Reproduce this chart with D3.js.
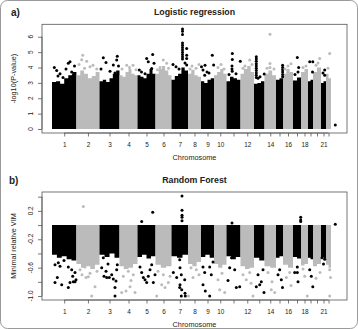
<!DOCTYPE html>
<html>
<head>
<meta charset="utf-8">
<script src="https://cdn.jsdelivr.net/npm/d3@7"></script>
<style>
  body { margin: 0; background: #fff; }
  text { font-family: "Liberation Sans", Arial, sans-serif; fill: #222; }
</style>
</head>
<body>
<div id="chart"></div>
<script>
// chromosomes and the stretch of genome axis each one covers (Mb)
var chromosomes = ["1","2","3","4","5","6","7","8","9","10","11","12","13","14","15","16","17","18","19","20","21","22"];
var chromSpan = [244, 231, 200, 180, 180, 160, 165, 130, 130, 125, 140, 135, 105, 115, 70, 100, 80, 70, 50, 80, 50, 50];
var tickLabels = ["1","2","3","4","5","6","7","8","9","10","","12","","14","","16","","18","","","21",""];

// a) logistic regression: top of the dense SNP cloud, left to right in each chromosome (-log10 p)
var lrCloudTop = [
  [3.05, 3.1, 2.95, 3.3, 3.5, 3.7],
  [3.5, 3.8, 3.6, 3.3, 3.45, 3.7],
  [3.1, 3.2, 3.05, 3.3, 3.6, 3.8],
  [3.5, 3.4, 3.7, 3.9, 3.6, 3.5],
  [3.5, 3.4, 3.3, 3.6, 3.9, 3.6],
  [3.6, 3.9, 4.1, 3.8, 3.5],
  [3.2, 3.45, 3.6, 4.0, 3.8],
  [3.6, 3.85, 3.5, 3.4],
  [3.1, 3.0, 3.2, 3.3],
  [3.5, 3.7, 3.9, 3.6],
  [3.1, 3.4, 3.3, 3.2],
  [3.6, 3.9, 4.1, 3.7],
  [2.95, 3.0, 3.1],
  [3.6, 3.8, 3.5],
  [3.2, 3.3],
  [3.6, 3.9, 3.7],
  [3.15, 3.35],
  [3.7, 3.9],
  [3.1, 3.2],
  [3.7, 4.0],
  [3.0, 3.1],
  [3.6, 3.3]
];
// a) SNPs standing out of the cloud: [chromosome, Mb into chromosome, -log10 p]
var lrHits = [
  [1,23,4.0],[1,47,3.8],[1,60,3.45],[1,80,3.6],[1,110,3.35],[1,140,3.9],[1,163,4.27],[1,180,4.37],[1,197,3.7],[1,213,3.5],[1,225,4.1],
  [2,26,4.2],[2,53,4.5],[2,63,4.8],[2,81,3.95],[2,103,4.4],[2,136,4.05],[2,166,4.15],[2,203,3.9],
  [3,15,3.9],[3,38,4.63],[3,65,4.33],[3,105,3.75],[3,138,4.16],[3,155,3.65],[3,172,4.48],[3,178,4.74],[3,190,4.1],
  [4,25,3.9],[4,72,4.15],[4,100,4.0],[4,135,4.15],[4,165,3.85],
  [5,18,3.83],[5,40,3.7],[5,75,3.6],[5,92,4.59],[5,108,4.37],[5,142,3.94],[5,152,4.85],[5,165,4.28],
  [6,20,3.85],[6,45,4.0],[6,78,4.48],[6,112,4.28],[6,130,3.95],
  [7,15,4.2],[7,45,4.05],[7,75,3.9],[7,135,4.3],
  [7,110,6.5],[7,110,6.35],[7,110,6.15],[7,110,5.6],[7,110,5.45],[7,110,5.3],[7,110,5.15],[7,110,5.0],[7,110,4.85],[7,110,4.7],[7,110,4.55],
  [7,152,5.24],[7,152,4.8],[7,152,4.59],[7,152,4.16],
  [8,20,3.9],[8,40,4.1],[8,80,3.95],[8,110,4.2],
  [9,5,4.05],[9,20,3.83],[9,37,3.5],[9,40,4.15],[9,60,3.7],[9,80,3.65],[9,113,4.8],[9,126,4.16],
  [10,40,4.0],[10,70,4.2],[10,100,3.9],
  [11,25,3.55],[11,57,3.75],[11,55,3.9],[11,55,4.1],[11,58,4.52],[11,58,4.91],[11,95,3.6],[11,138,4.41],
  [12,25,3.95],[12,45,4.1],[12,92,4.48],[12,115,4.2],
  [13,23,4.7],[13,23,4.55],[13,23,4.4],[13,23,4.25],[13,23,4.1],[13,23,3.95],[13,23,3.8],[13,23,3.65],[13,23,3.5],[13,23,3.35],
  [13,40,3.3],[13,60,3.4],[13,102,3.57],
  [14,25,3.95],[14,55,6.17],[14,55,4.26],[14,55,4.0],[14,95,3.9],
  [15,66,4.15],[15,66,4.0],[15,66,3.85],[15,66,3.7],[15,66,3.55],[15,66,3.4],
  [16,20,3.9],[16,50,4.1],[16,80,4.25],
  [17,20,3.55],[17,43,4.65],[17,50,3.7],[17,57,4.0],
  [18,20,4.0],[18,50,4.1],
  [19,17,4.37],[19,45,3.7],[19,48,4.37],
  [20,30,4.15],[20,50,4.3],[20,67,4.59],
  [21,20,3.65],[21,37,3.83],[21,37,3.5],
  [22,20,3.95],[22,37,4.91],
  [23,43,0.26]
];

// b) random forest: bottom of the dense SNP cloud (it runs from 0 down), left to right
var rfCloudBottom = [
  [-0.42, -0.46, -0.44, -0.48, -0.5],
  [-0.55, -0.6, -0.58, -0.62, -0.56],
  [-0.42, -0.45, -0.4, -0.46],
  [-0.58, -0.62, -0.6, -0.55],
  [-0.45, -0.42, -0.47, -0.44],
  [-0.56, -0.6, -0.58],
  [-0.44, -0.46, -0.42],
  [-0.55, -0.58, -0.52],
  [-0.45, -0.42, -0.46],
  [-0.55, -0.6, -0.56],
  [-0.44, -0.48, -0.45],
  [-0.58, -0.62, -0.6],
  [-0.46, -0.5],
  [-0.58, -0.6],
  [-0.46, -0.44],
  [-0.56, -0.6],
  [-0.45, -0.47],
  [-0.57, -0.55],
  [-0.46, -0.48],
  [-0.58, -0.55],
  [-0.45, -0.47],
  [-0.56, -0.6]
];
// b) SNPs outside the cloud: [chromosome, Mb into chromosome, minimal relative VIM]
var rfHits = [
  [1,30,-0.81],[1,53,-0.74],[1,97,-0.84],[1,163,-0.88],[1,180,-0.81],[1,230,-0.8],[1,213,-0.8],[1,240,-0.77],[1,207,-0.72],[1,197,-0.63],[1,163,-0.59],[1,63,-0.53],[1,30,-0.56],[1,80,-0.58],[1,230,-0.67],[1,120,-0.5],
  [2,69,0.26],[2,96,-0.74],[2,119,-0.73],[2,153,-1.0],[2,186,-0.87],[2,36,-0.63],[2,86,-0.59],[2,136,-0.68],[2,206,-0.65],[2,56,-0.7],
  [3,38,-0.46],[3,22,-0.6],[3,45,-0.72],[3,72,-0.74],[3,98,-0.74],[3,138,-0.76],[3,165,-0.79],[3,155,-1.0],[3,122,-0.7],[3,65,-0.65],[3,172,-0.63],[3,178,-0.56],[3,155,-0.88],[3,85,-0.55],
  [4,22,-0.95],[4,65,-0.93],[4,105,-0.87],[4,155,-0.95],[4,138,-0.7],[4,38,-0.72],[4,88,-0.65],[4,115,-0.78],[4,55,-0.6],
  [5,42,0.05],[5,152,0.18],[5,25,-0.59],[5,42,-0.67],[5,58,-0.74],[5,92,-0.81],[5,108,-0.72],[5,125,-0.63],[5,142,-0.56],[5,158,-0.81],[5,75,-0.77],[5,175,-0.7],
  [6,12,-1.0],[6,62,-0.84],[6,95,-0.88],[6,128,-0.81],[6,78,-0.7],[6,25,-0.65],[6,145,-0.72],
  [7,105,0.41],[7,105,0.21],[7,105,0.14],[7,105,0.11],[7,105,0.06],
  [7,82,-0.49],[7,85,-0.6],[7,98,-0.7],[7,132,-0.77],[7,82,-0.88],[7,138,-1.0],[7,98,-1.0],[7,18,-0.67],[7,52,-0.74],[7,85,-0.84],[7,102,-0.91],[7,135,-0.96],
  [8,5,-1.0],[8,50,-0.74],[8,83,-0.63],[8,110,-0.7],[8,30,-0.6],
  [9,20,-0.59],[9,37,-0.67],[9,20,-0.84],[9,43,-0.93],[9,87,-1.0],[9,103,-0.7],[9,87,-0.59],[9,120,-0.52],
  [10,57,-0.91],[10,107,-0.95],[10,40,-0.77],[10,80,-0.68],
  [11,55,0.03],[11,32,-0.6],[11,82,-0.63],[11,98,-0.88],[11,132,-0.87],[11,15,-0.78],[11,50,-0.46],
  [12,25,-0.7],[12,58,-0.77],[12,92,-0.67],[12,125,-1.0],[12,105,-0.82],
  [13,23,-0.87],[13,57,-0.84],[13,73,-0.8],[13,100,-0.95],[13,40,-0.7],[13,90,-0.63],
  [14,68,-0.91],[14,102,-0.95],[14,35,-0.67],[14,75,-0.8],
  [15,20,-0.7],[15,53,-0.77],[15,65,-0.88],[15,37,-0.63],
  [16,33,-0.74],[16,67,-0.67],[16,80,-0.85],
  [17,77,0.11],[17,77,0.07],[17,77,0.05],[17,17,-0.67],[17,43,-0.67],[17,50,-0.8],[17,43,-0.59],
  [18,63,-1.0],[18,37,-0.72],[18,20,-0.62],
  [19,33,-0.72],[19,48,-0.87],[19,17,-0.63],
  [20,70,-0.67],[20,30,-0.75],
  [21,10,-0.46],[21,37,-0.48],[21,25,-0.55],
  [22,37,-0.63],[22,45,-0.74],[22,37,-1.0],
  [23,43,0.01]
];

var lrTicks = [0, 1, 2, 3, 4, 5, 6];
var lrTickLabels = ["0", "1", "2", "3", "4", "5", "6"];
var rfTicks = [-1.0, -0.8, -0.6, -0.4, -0.2, 0.0, 0.2, 0.4];
var rfTickLabels = ["-1.0", "", "-0.6", "", "-0.2", "", "0.2", ""];

var width = 358, height = 329;
var black = "#000", grey = "#bbbbbb", frame = "#555";

var svg = d3.select("#chart").append("svg")
    .attr("width", width)
    .attr("height", height);

// outer figure border
svg.append("rect")
    .attr("x", 0.5).attr("y", 0.5)
    .attr("width", width - 1).attr("height", height - 1)
    .attr("rx", 7)
    .attr("fill", "none")
    .attr("stroke", "#9a9a9a");

// genome axis: chromosomes laid end to end
var chromStart = [0].concat(Array.from(d3.cumsum(chromSpan)));
var chromMid = chromSpan.map(function(s, i) { return chromStart[i] + s / 2; });
var x = d3.scaleLinear().domain([-100, 2950]).range([42, 347]);

function chromColor(c) { return (c - 1) % 2 === 0 ? black : grey; }
function genomePos(d) { return chromStart[d[0] - 1] + d[1]; }

function drawPanel(p) {
  var g = svg.append("g");
  var y = d3.scaleLinear().domain(p.domain).range([p.bottom, p.top]);

  // dense SNP cloud per chromosome
  var area = d3.area()
      .x(function(d) { return x(d.pos); })
      .y0(y(0))
      .y1(function(d) { return y(d.v); })
      .curve(d3.curveStepAfter);

  p.cloud.forEach(function(prof, i) {
    var n = prof.length;
    var pts = prof.map(function(v, k) { return {pos: chromStart[i] + chromSpan[i] * k / n, v: v}; });
    pts.push({pos: chromStart[i] + chromSpan[i], v: prof[n - 1]});
    g.append("path")
        .attr("d", area(pts))
        .attr("fill", chromColor(i + 1));
  });

  g.selectAll(".hit").data(p.hits).enter()
    .append("circle")
      .attr("class", "hit")
      .attr("cx", function(d) { return x(genomePos(d)); })
      .attr("cy", function(d) { return y(d[2]); })
      .attr("r", 1.5)
      .attr("fill", function(d) { return chromColor(d[0]); });

  // box
  g.append("rect")
      .attr("x", 42).attr("y", p.top)
      .attr("width", 305).attr("height", p.bottom - p.top)
      .attr("fill", "none")
      .attr("stroke", frame)
      .attr("stroke-width", 0.8);

  // y axis
  var yAxis = g.append("g")
      .attr("transform", "translate(42,0)")
      .call(d3.axisLeft(y).tickValues(p.ticks).tickSize(4).tickFormat(""));
  yAxis.select(".domain").remove();
  yAxis.selectAll("line").attr("stroke", frame).attr("stroke-width", 0.8);
  yAxis.append("line")
      .attr("y1", y(p.ticks[0])).attr("y2", y(p.ticks[p.ticks.length - 1]))
      .attr("stroke", frame).attr("stroke-width", 0.8);
  g.selectAll(".ylab").data(p.ticks).enter()
    .append("text")
      .attr("transform", function(d) { return "translate(32.5," + y(d) + ") rotate(-90)"; })
      .attr("text-anchor", "middle")
      .style("font-size", "6.4px")
      .text(function(d, i) { return p.tickLabels[i]; });

  // x axis
  var xAxis = g.append("g")
      .attr("transform", "translate(0," + p.bottom + ")")
      .call(d3.axisBottom(x).tickValues(chromMid).tickSize(3.5).tickPadding(5.5)
        .tickFormat(function(d, i) { return tickLabels[i]; }));
  xAxis.select(".domain").remove();
  xAxis.selectAll("line").attr("stroke", frame).attr("stroke-width", 0.8);
  xAxis.append("line")
      .attr("x1", x(chromMid[0])).attr("x2", x(chromMid[chromMid.length - 1]))
      .attr("stroke", frame).attr("stroke-width", 0.8);
  xAxis.selectAll("text")
      .style("font-size", "6.4px")
      .style("font-family", "'Liberation Sans', Arial, sans-serif")
      .attr("fill", "#222");

  g.append("text")
      .attr("x", 194.5).attr("y", p.bottom + 27)
      .attr("text-anchor", "middle")
      .style("font-size", "7.3px")
      .text("Chromosome");

  g.append("text")
      .attr("transform", "translate(16," + (p.top + p.bottom) / 2 + ") rotate(-90)")
      .attr("text-anchor", "middle")
      .style("font-size", "7.3px")
      .text(p.ylabel);

  g.append("text")
      .attr("x", 194.5).attr("y", p.titleY)
      .attr("text-anchor", "middle")
      .style("font-size", "8.8px")
      .style("font-weight", "bold")
      .text(p.title);

  g.append("text")
      .attr("x", p.letterX).attr("y", p.titleY + 1)
      .style("font-size", "10px")
      .style("font-weight", "bold")
      .text(p.letter);
}

drawPanel({
  top: 24.3, bottom: 133, domain: [-0.26, 6.81],
  cloud: lrCloudTop, hits: lrHits,
  ticks: lrTicks, tickLabels: lrTickLabels,
  ylabel: "-log10(P-value)", title: "Logistic regression",
  titleY: 15, letter: "a)", letterX: 11
});

drawPanel({
  top: 192, bottom: 300, domain: [-1.056, 0.466],
  cloud: rfCloudBottom, hits: rfHits,
  ticks: rfTicks, tickLabels: rfTickLabels,
  ylabel: "Minimal relative VIM", title: "Random Forest",
  titleY: 182.5, letter: "b)", letterX: 9
});
</script>
</body>
</html>
